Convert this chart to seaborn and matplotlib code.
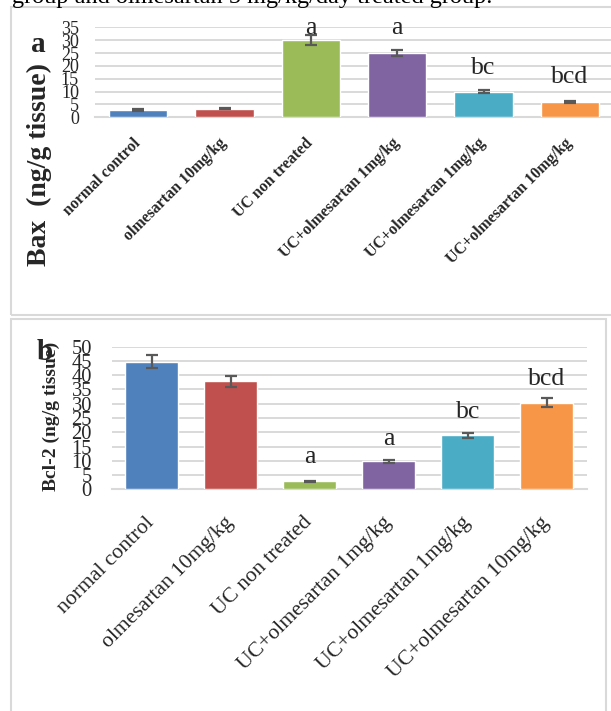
import numpy as np
import pandas as pd
import matplotlib
matplotlib.use("Agg")
import matplotlib.pyplot as plt
import seaborn as sns
from matplotlib.patches import Rectangle
from matplotlib.transforms import ScaledTranslation

# ---------------- data ----------------
groups = ["normal control", "olmesartan 10mg/kg", "UC non treated",
          "UC+olmesartan 1mg/kg", "UC+olmesartan 1mg/kg", "UC+olmesartan 10mg/kg"]
colors = ["#4F81BD", "#C0504D", "#9BBB59", "#8064A2", "#4BACC6", "#F79646"]

bax_mean = [2.9, 3.4, 30.0, 24.9, 10.0, 6.1]
bax_err = [0.3, 0.3, 2.0, 1.25, 0.6, 0.4]
bax_sig = ["", "", "a", "a", "bc", "bcd"]
bax_ticks = [0, 5, 10, 15, 20, 25, 30, 35]

bcl2_mean = [44.8, 37.8, 2.8, 9.8, 18.9, 30.4]
bcl2_err = [2.4, 2.0, 0.25, 0.6, 1.0, 1.7]
bcl2_sig = ["", "", "a", "a", "bc", "bcd"]
bcl2_ticks = [0, 5, 10, 15, 20, 25, 30, 35, 40, 45, 50]

# annotation heights (data units, centre of letters)
bax_sig_y = [0, 0, 34.6, 34.6, 19.3, 15.7]
bcl2_sig_y = [0, 0, 11.3, 17.7, 27.0, 38.7]

# ---------------- style ----------------
sns.set_style("white")
plt.rcParams["font.family"] = ["Liberation Serif", "DejaVu Serif"]

W, H = 611, 711
fig = plt.figure(figsize=(W / 100, H / 100), dpi=100)


def fx(px):
    return px / W


def fy(py):
    return 1 - py / H


# panel frames
fig.add_artist(Rectangle((fx(11), fy(314.7)), fx(640) - fx(11), fy(7.3) - fy(314.7),
                         transform=fig.transFigure, fill=False, ec="#d9d9d9", lw=1.5))
fig.add_artist(Rectangle((fx(11), fy(740)), fx(606) - fx(11), fy(319) - fy(740),
                         transform=fig.transFigure, fill=False, ec="#d9d9d9", lw=1.5))

fig.text(fx(12), fy(3.5), "group and olmesartan 5 mg/kg/day treated group.",
         fontsize=17.5, va="baseline", ha="left", color="black")


def panel(ax, mean, err, sig, sig_y, ticks, width, xfs, xbold, yfs, ypad, xpad, xshift, sigfs):
    keys = [str(i) for i in range(len(mean))]
    df = pd.DataFrame({"key": keys, "value": mean})
    sns.barplot(data=df, x="key", y="value", hue="key", palette=colors, legend=False,
                width=width, errorbar=None, saturation=1, ax=ax, zorder=3)
    ax.errorbar(x=np.arange(len(mean)), y=mean, yerr=err, fmt="none", ecolor="#595959",
                elinewidth=1.6, capsize=4.3, capthick=1.6, zorder=4)
    for i, (s, yy) in enumerate(zip(sig, sig_y)):
        if s:
            ax.text(i, yy, s, ha="center", va="center", fontsize=sigfs, zorder=5)
    ax.set_xlim(-0.5, len(mean) - 0.5)
    ax.set_ylim(ticks[0], ticks[-1])
    ax.set_yticks(ticks)
    ax.set_yticklabels([str(t) for t in ticks], fontsize=yfs)
    ax.set_xticks(np.arange(len(mean)))
    ax.set_xticklabels(groups, rotation=45, ha="right", va="center",
                       rotation_mode="anchor", fontsize=xfs,
                       fontweight="bold" if xbold else "normal")
    off = ScaledTranslation(xshift / 100, 0, fig.dpi_scale_trans)
    for lbl in ax.get_xticklabels():
        lbl.set_transform(lbl.get_transform() + off)
    ax.tick_params(axis="x", length=0, pad=xpad)
    ax.tick_params(axis="y", length=0, pad=ypad)
    ax.set_xlabel("")
    ax.set_ylabel("")
    ax.set_axisbelow(True)
    ax.yaxis.grid(True, color="#d9d9d9", lw=1.4)
    ax.xaxis.grid(False)
    for side in ["top", "right", "left"]:
        ax.spines[side].set_visible(False)
    ax.spines["bottom"].set_color("#d9d9d9")
    ax.spines["bottom"].set_linewidth(1.5)
    ax.patch.set_alpha(0)


# panel a
ax1 = fig.add_axes([fx(95), fy(117.3), fx(613) - fx(95), fy(27.3) - fy(117.3)])
panel(ax1, bax_mean, bax_err, bax_sig, bax_sig_y, bax_ticks, 0.675,
      xfs=11.4, xbold=True, yfs=13, ypad=11.5, xpad=17, xshift=5.7, sigfs=18.5)
fig.text(fx(39), fy(165), "Bax  (ng/g tissue)", rotation=90, ha="center", va="center",
         fontsize=20, fontweight="bold")
fig.text(fx(38), fy(45), "a", ha="center", va="center", fontsize=21, fontweight="bold")

# panel b
ax2 = fig.add_axes([fx(112), fy(489.3), fx(586.5) - fx(112), fy(346.7) - fy(489.3)])
panel(ax2, bcl2_mean, bcl2_err, bcl2_sig, bcl2_sig_y, bcl2_ticks, 0.67,
      xfs=15.6, xbold=False, yfs=14.8, ypad=14.4, xpad=22, xshift=8, sigfs=18.5)
fig.text(fx(51), fy(416), "Bcl-2 (ng/g tissue)", rotation=90, ha="center", va="center",
         fontsize=14, fontweight="bold")
fig.text(fx(45), fy(352), "b", ha="center", va="center", fontsize=21, fontweight="bold")

fig.savefig("out.png", dpi=100)
